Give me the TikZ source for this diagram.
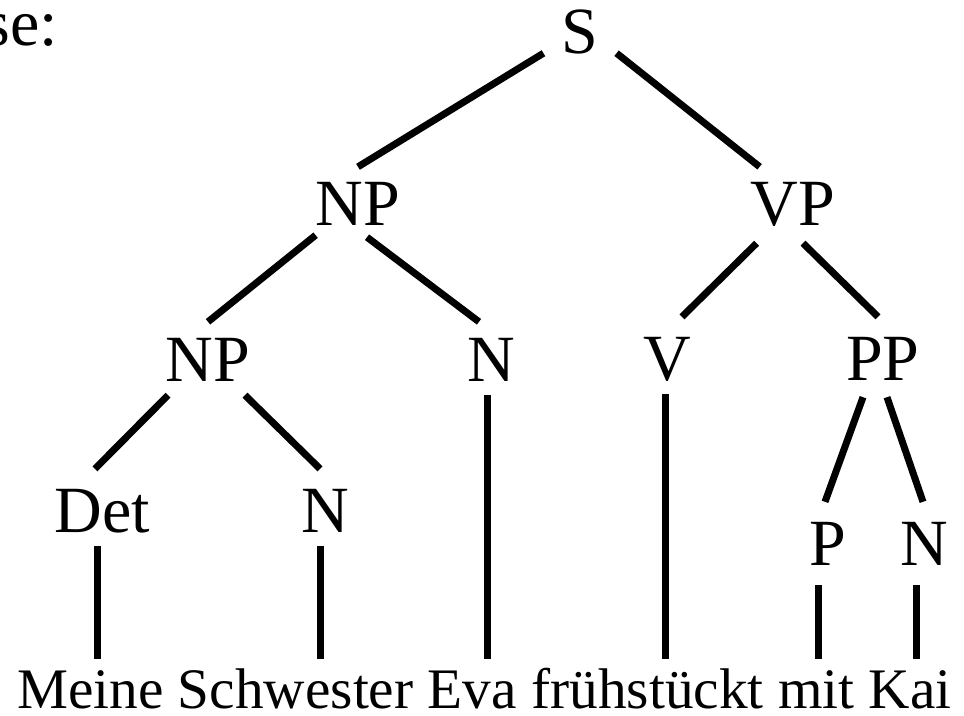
\documentclass[tikz,border=0pt]{standalone}
\usepackage{fontspec}
\setmainfont{Liberation Serif}
\usetikzlibrary{positioning}

\begin{document}
\begin{tikzpicture}[
        x=1pt, y=-1pt,
        every node/.style={inner sep=0pt, text depth=0pt},
        cat/.style={anchor=base, font=\fontsize{66}{70}\selectfont, text height=43pt},
        word/.style={inner xsep=7pt, font=\fontsize{57.3}{62}\selectfont, text height=38pt},
        branch/.style={line width=7pt},
        stem/.style={line width=7pt, shorten <=14pt, shorten >=11pt}
    ]
    \clip (0,0) rectangle (964,715);

    % the sentence
    \node[word, anchor=base west] (w1) at (10,708) {Meine};
    \node[word, base right=0pt of w1] (w2) {Schwester};
    \node[word, base right=0pt of w2] (w3) {Eva};
    \node[word, base right=0pt of w3] (w4) {frühstückt};
    \node[word, base right=0pt of w4] (w5) {mit};
    \node[word, base right=0pt of w5] (w6) {Kai};

    \node[cat, anchor=base east] (cap) at (58,45) {se:};

    % categories
    \node[cat] (S) at (580,53) {S};
    \node[cat] (np1) at (358,225) {NP};
    \node[cat] (vp) at (793,225) {VP};
    \node[cat] (np2) at (208,381) {NP};
    \node[cat] (n2) at (491,381) {N};
    \node[cat] (v) at (667,380) {V};
    \node[cat] (pp) at (883,380) {PP};
    \node[cat] (det) at (102,532) {Det};
    \node[cat] (n1) at (325,532) {N};
    \node[cat] (p) at (828,565) {P};
    \node[cat] (n3) at (924,565) {N};

    % branches
    \draw[branch] ([xshift=-18pt]S.south west) -- ([yshift=15pt]np1.north);
    \draw[branch] ([xshift=18pt]S.south east) -- ([xshift=9pt,yshift=15pt]vp.north west);
    \draw[branch] ([yshift=-10pt]np1.south west) -- ([yshift=16pt]np2.north);
    \draw[branch] ([xshift=9pt,yshift=-12pt]np1.south) -- ([xshift=-12pt,yshift=16pt]n2.north);
    \draw[branch] ([xshift=6pt,yshift=-18pt]vp.south west) -- ([xshift=15pt,yshift=20pt]v.north);
    \draw[branch] ([xshift=10pt,yshift=-18pt]vp.south) -- ([xshift=-5pt,yshift=20pt]pp.north);
    \draw[branch] ([xshift=-40pt,yshift=-14pt]np2.south) -- ([xshift=-7pt,yshift=20pt]det.north);
    \draw[branch] ([xshift=37pt,yshift=-14pt]np2.south) -- ([xshift=-5pt,yshift=20pt]n1.north);
    \draw[branch] ([xshift=-20pt,yshift=-17pt]pp.south) -- ([xshift=-3pt,yshift=20pt]p.north);
    \draw[branch] ([xshift=4pt,yshift=-17pt]pp.south) -- ([xshift=-1pt,yshift=20pt]n3.north);

    % stems down to the words
    \draw[stem] ([xshift=-5pt]det.south) -- ([xshift=-5pt]det.south |- w1.north);
    \draw[stem] ([xshift=-5pt]n1.south) -- ([xshift=-5pt]n1.south |- w2.north);
    \draw[stem] ([xshift=-4pt]n2.south) -- ([xshift=-4pt]n2.south |- w3.north);
    \draw[stem] ([xshift=-2pt]v.south) -- ([xshift=-2pt]v.south |- w4.north);
    \draw[stem, shorten <=20pt] ([xshift=-10pt]p.south) -- ([xshift=-10pt]p.south |- w5.north);
    \draw[stem, shorten <=20pt] ([xshift=-8pt]n3.south) -- ([xshift=-8pt]n3.south |- w6.north);
\end{tikzpicture}
\end{document}
